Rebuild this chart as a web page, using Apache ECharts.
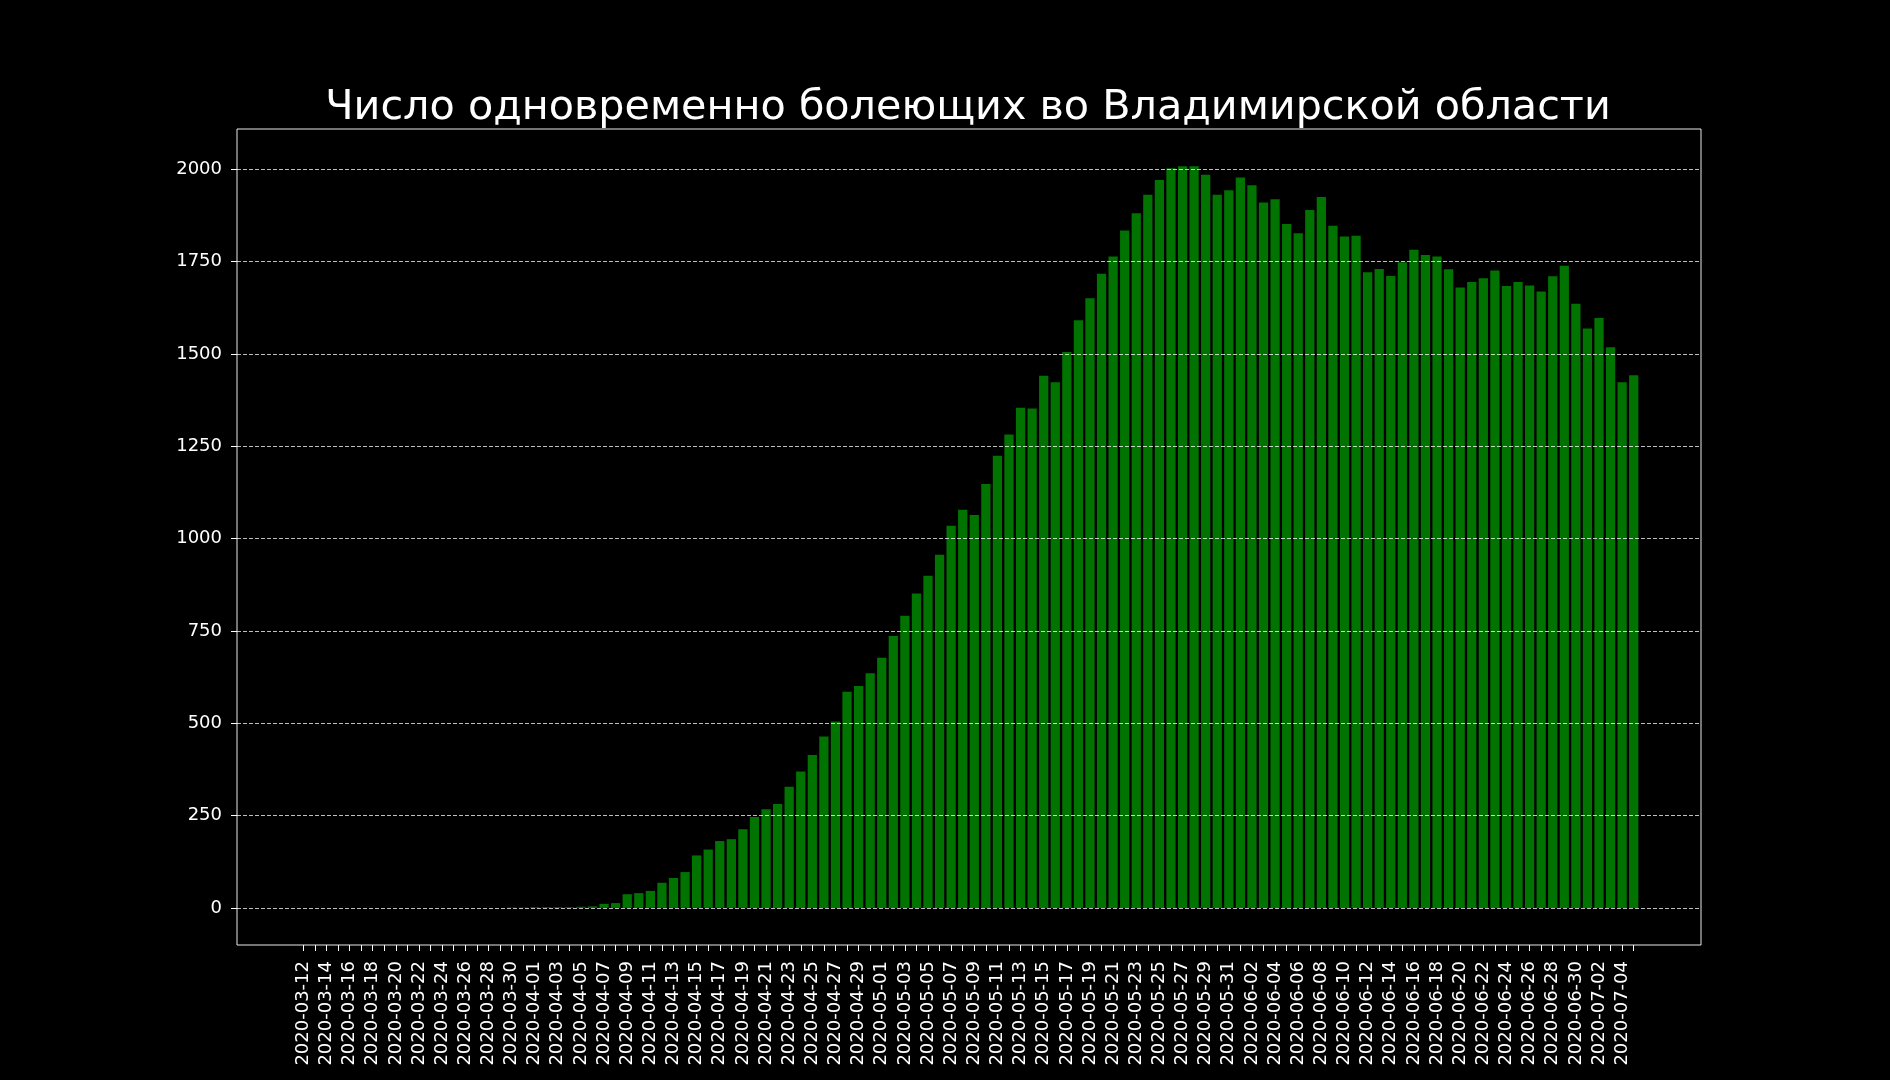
<!DOCTYPE html>
<html><head><meta charset="utf-8">
<script src="https://cdn.jsdelivr.net/npm/echarts@6/dist/echarts.min.js"></script>
<style>html,body{margin:0;padding:0;background:#000}#c{width:1890px;height:1080px}</style>
</head><body><div id="c"></div>
<script>
const chartTitle = 'Число одновременно болеющих во Владимирской области';

const dates = [
 '2020-03-12','2020-03-13','2020-03-14','2020-03-15','2020-03-16','2020-03-17','2020-03-18','2020-03-19','2020-03-20','2020-03-21',
 '2020-03-22','2020-03-23','2020-03-24','2020-03-25','2020-03-26','2020-03-27','2020-03-28','2020-03-29','2020-03-30','2020-03-31',
 '2020-04-01','2020-04-02','2020-04-03','2020-04-04','2020-04-05','2020-04-06','2020-04-07','2020-04-08','2020-04-09','2020-04-10',
 '2020-04-11','2020-04-12','2020-04-13','2020-04-14','2020-04-15','2020-04-16','2020-04-17','2020-04-18','2020-04-19','2020-04-20',
 '2020-04-21','2020-04-22','2020-04-23','2020-04-24','2020-04-25','2020-04-26','2020-04-27','2020-04-28','2020-04-29','2020-04-30',
 '2020-05-01','2020-05-02','2020-05-03','2020-05-04','2020-05-05','2020-05-06','2020-05-07','2020-05-08','2020-05-09','2020-05-10',
 '2020-05-11','2020-05-12','2020-05-13','2020-05-14','2020-05-15','2020-05-16','2020-05-17','2020-05-18','2020-05-19','2020-05-20',
 '2020-05-21','2020-05-22','2020-05-23','2020-05-24','2020-05-25','2020-05-26','2020-05-27','2020-05-28','2020-05-29','2020-05-30',
 '2020-05-31','2020-06-01','2020-06-02','2020-06-03','2020-06-04','2020-06-05','2020-06-06','2020-06-07','2020-06-08','2020-06-09',
 '2020-06-10','2020-06-11','2020-06-12','2020-06-13','2020-06-14','2020-06-15','2020-06-16','2020-06-17','2020-06-18','2020-06-19',
 '2020-06-20','2020-06-21','2020-06-22','2020-06-23','2020-06-24','2020-06-25','2020-06-26','2020-06-27','2020-06-28','2020-06-29',
 '2020-06-30','2020-07-01','2020-07-02','2020-07-03','2020-07-04','2020-07-05'
];

const activeCases = [
 0,0,0,0,0,0,0,0,0,0,0,0,0,0,0,0,0,0,
 1,1,2,2,2,2,3,4,
 11,13,37,40,46,68,81,97,142,158,181,186,213,246,267,281,328,369,414,464,
 505,585,601,635,677,736,791,851,899,956,1035,1078,1064,1148,1224,1282,1354,1352,1441,1423,
 1505,1591,1651,1717,1764,1834,1881,1931,1971,2003,2008,2008,1985,1931,1943,1978,1957,1910,1919,1852,
 1827,1890,1925,1847,1818,1820,1721,1730,1711,1748,1782,1768,1764,1729,1680,1695,1705,1726,1684,1695,
 1685,1669,1710,1739,1636,1569,1597,1518,1423,1442
];

const yTicks = [0, 250, 500, 750, 1000, 1250, 1500, 1750, 2000];
const yMin = -100.5;
const yMax = 2109;

const font = 'DejaVu Sans';
const chart = echarts.init(document.getElementById('c'), null, {renderer: 'canvas'});
chart.setOption({
  backgroundColor: '#000',
  animation: false,
  textStyle: {fontFamily: font},
  title: {
    text: chartTitle, left: 963, top: 83, textAlign: 'center',
    textStyle: {color: '#fff', fontSize: 41.3, fontWeight: 'normal', fontFamily: font}
  },
  grid: [
    {left: 237, right: 189, top: 129, bottom: 135, show: true, borderColor: '#e8e8e8', borderWidth: 1, backgroundColor: 'transparent'},
    {left: 297.5, right: 250.5, top: 129, bottom: 135}
  ],
  xAxis: [
    {type: 'value', gridIndex: 0, show: false, min: 0, max: 1},
    {type: 'category', gridIndex: 1, data: dates, position: 'bottom',
     axisLine: {show: false, onZero: false},
     axisTick: {show: true, interval: 0, alignWithLabel: true, length: 6, lineStyle: {color: '#fff', width: 1}},
     axisLabel: {interval: 1, rotate: 90, color: '#fff', fontSize: 18, margin: 16, fontFamily: font},
     splitLine: {show: false}}
  ],
  yAxis: [
    {type: 'value', gridIndex: 0, min: yMin, max: yMax, z: 5,
     axisLine: {show: false},
     axisTick: {show: true, length: 6, customValues: yTicks, lineStyle: {color: '#fff', width: 1}},
     axisLabel: {customValues: yTicks, color: '#fff', fontSize: 18, margin: 15, fontFamily: font,
                 formatter: v => String(v)},
     splitLine: {show: true, lineStyle: {color: 'rgba(255,255,255,0.75)', type: [4, 2], width: 1}}},
    {type: 'value', gridIndex: 1, min: yMin, max: yMax, show: false}
  ],
  series: [{
    type: 'bar', xAxisIndex: 1, yAxisIndex: 1, data: activeCases,
    barCategoryGap: '20%', itemStyle: {color: 'rgb(0,115,0)'}
  }]
});
</script></body></html>
